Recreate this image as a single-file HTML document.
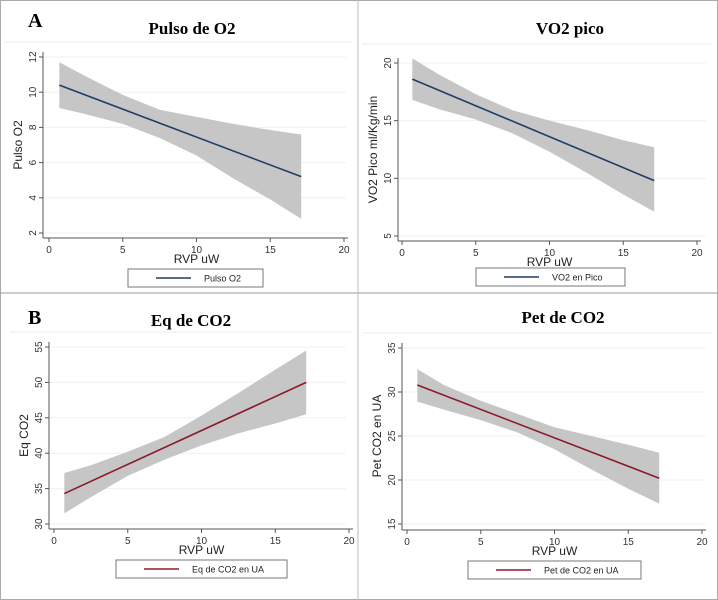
<!DOCTYPE html>
<html><head><meta charset="utf-8"><style>
html,body{margin:0;padding:0;background:#fff;}
svg{display:block;}
</style></head><body>
<svg id="chart" width="718" height="600" viewBox="0 0 718 600">
<rect x="0.5" y="0.5" width="717" height="599" fill="#fff" stroke="#aaa"/>
<line x1="0" y1="293" x2="718" y2="293" stroke="#999"/>
<line x1="358" y1="0" x2="358" y2="600" stroke="#bbb"/>
<text x="28" y="27" font-family="Liberation Serif, serif" font-weight="bold" font-size="20">A</text>
<text x="28" y="324" font-family="Liberation Serif, serif" font-weight="bold" font-size="20">B</text>
</svg>
<script>
const xCI = [0.7, 2.5, 5, 7.5, 10, 12.5, 15, 17.1];
const xTicks = [0, 5, 10, 15, 20];

const pulsoLine = [10.4, 5.2];
const pulsoUpper = [11.7, 10.9, 9.85, 9.0, 8.6, 8.2, 7.85, 7.6];
const pulsoLower = [9.1, 8.75, 8.2, 7.4, 6.4, 5.1, 3.9, 2.8];
const pulsoYTicks = [2, 4, 6, 8, 10, 12];

const vo2Line = [18.6, 9.8];
const vo2Upper = [20.4, 19.0, 17.3, 15.9, 15.0, 14.2, 13.3, 12.7];
const vo2Lower = [16.8, 16.0, 15.1, 13.9, 12.3, 10.5, 8.6, 7.1];
const vo2YTicks = [5, 10, 15, 20];

const eqLine = [34.3, 50.0];
const eqUpper = [37.2, 38.3, 40.2, 42.3, 45.3, 48.5, 51.8, 54.5];
const eqLower = [31.5, 33.8, 36.8, 39.1, 41.1, 42.8, 44.2, 45.5];
const eqYTicks = [30, 35, 40, 45, 50, 55];

const petLine = [30.8, 20.2];
const petUpper = [32.6, 30.8, 29.0, 27.5, 26.0, 25.0, 24.0, 23.1];
const petLower = [28.9, 28.0, 26.8, 25.4, 23.5, 21.2, 19.0, 17.3];
const petYTicks = [15, 20, 25, 30, 35];

const NS = 'http://www.w3.org/2000/svg';
const svg = document.getElementById('chart');
function mk(tag, attrs, parent, txt) {
  const e = document.createElementNS(NS, tag);
  for (const k in attrs) e.setAttribute(k, attrs[k]);
  if (txt !== undefined) e.textContent = txt;
  (parent || svg).appendChild(e);
  return e;
}

function panel(cfg) {
  const g = mk('g', {});
  
  
  const sx = v => cfg.x0 + (v - 0) / 20 * (cfg.x1 - cfg.x0);
  const sy = v => cfg.yb + (v - cfg.ymin) / (cfg.ymax - cfg.ymin) * (cfg.yt - cfg.yb);
  const tdef = 'Liberation Sans, sans-serif';
  const t = mk('text', {x: cfg.tx, y: cfg.ty, 'text-anchor': 'middle', 'font-family': 'Liberation Serif, serif', 'font-weight': 'bold', 'font-size': 17}, g, cfg.title);
  
  
  mk('line', {x1: cfg.px0, x2: cfg.px1, y1: cfg.sepY, y2: cfg.sepY, stroke: '#eee'}, g);
  cfg.yTicks.forEach(v => {
    const gl = mk('line', {x1: cfg.ax + 1, x2: cfg.px1 - 6, y1: sy(v), y2: sy(v), stroke: '#f0f0f0'}, g);
    
    
  });
  let d = '';
  xCI.forEach((x, i) => d += (i ? 'L' : 'M') + sx(x) + ',' + sy(cfg.upper[i]));
  for (let i = xCI.length - 1; i >= 0; i--) d += 'L' + sx(xCI[i]) + ',' + sy(cfg.lower[i]);
  d += 'Z';
  const band = mk('path', {d: d, fill: '#c6c6c6', stroke: 'none'}, g);
  
  
  const ln = mk('line', {x1: sx(xCI[0]), y1: sy(cfg.line[0]), x2: sx(xCI[xCI.length - 1]), y2: sy(cfg.line[1]), stroke: cfg.color, 'stroke-width': 1.6}, g);
  
  
  const ya = mk('line', {x1: cfg.ax, x2: cfg.ax, y1: sy(cfg.ymax) - 5, y2: cfg.ay, stroke: '#555'}, g);
  
  
  const xa = mk('line', {x1: cfg.ax, x2: cfg.x1 + 4, y1: cfg.ay, y2: cfg.ay, stroke: '#555'}, g);
  
  
  cfg.yTicks.forEach(v => {
    mk('line', {x1: cfg.ax - 4, x2: cfg.ax, y1: sy(v), y2: sy(v), stroke: '#555'}, g);
    const tl = mk('text', {x: 0, y: 0, transform: 'translate(' + (cfg.ax - 7) + ',' + sy(v) + ') rotate(-90)', 'text-anchor': 'middle', 'font-family': tdef, 'font-size': 10, fill: '#333'}, g, String(v));
    
    
  });
  xTicks.forEach(v => {
    mk('line', {x1: sx(v), x2: sx(v), y1: cfg.ay, y2: cfg.ay + 4, stroke: '#555'}, g);
    const tl = mk('text', {x: sx(v), y: cfg.ay + 15, 'text-anchor': 'middle', 'font-family': tdef, 'font-size': 10, fill: '#333'}, g, String(v));
    
    
  });
  const xt = mk('text', {x: (cfg.x0 + cfg.x1) / 2, y: cfg.ay + 25, 'text-anchor': 'middle', 'font-family': tdef, 'font-size': 12, fill: '#222'}, g, 'RVP uW');
  
  
  const ytt = mk('text', {x: 0, y: 0, transform: 'translate(' + (cfg.ax - 21) + ',' + ((sy(cfg.ymax) + sy(cfg.ymin)) / 2) + ') rotate(-90)', 'text-anchor': 'middle', 'font-family': tdef, 'font-size': 12, fill: '#222'}, g, cfg.ytitle);
  
  
  const lg = mk('g', {}, g);
  
  
  mk('rect', {x: cfg.lx, y: cfg.ly, width: cfg.lw, height: 18, fill: '#fff', stroke: '#777'}, lg);
  const ls = mk('line', {x1: cfg.lx + 28, x2: cfg.lx + 63, y1: cfg.ly + 9, y2: cfg.ly + 9, stroke: cfg.color, 'stroke-width': 1.6}, lg);
  
  
  const lt = mk('text', {x: cfg.lx + 76, y: cfg.ly + 12.5, 'font-family': tdef, 'font-size': 9, fill: '#222'}, lg, cfg.legend);
  
  
}

panel({name: 'pulso-o2-chart', title: 'Pulso de O2', tx: 192, ty: 34, sepY: 42, px0: 5, px1: 352,
  x0: 49, x1: 344, ax: 43, ay: 238, ymin: 2, ymax: 12, yb: 233, yt: 57,
  yTicks: pulsoYTicks, upper: pulsoUpper, lower: pulsoLower, line: pulsoLine, color: '#1f3f66',
  ytitle: 'Pulso O2', legend: 'Pulso O2', lx: 128, ly: 269, lw: 135});

panel({name: 'vo2-pico-chart', title: 'VO2 pico', tx: 570, ty: 34, sepY: 44, px0: 362, px1: 712,
  x0: 402, x1: 697, ax: 398, ay: 241, ymin: 5, ymax: 20, yb: 236, yt: 63,
  yTicks: vo2YTicks, upper: vo2Upper, lower: vo2Lower, line: vo2Line, color: '#1f3f66',
  ytitle: 'VO2 Pico ml/Kg/min', legend: 'VO2 en Pico', lx: 476, ly: 268, lw: 149});

panel({name: 'eq-co2-chart', title: 'Eq de CO2', tx: 191, ty: 326, sepY: 332, px0: 10, px1: 352,
  x0: 54, x1: 349, ax: 49, ay: 529, ymin: 30, ymax: 55, yb: 524, yt: 347,
  yTicks: eqYTicks, upper: eqUpper, lower: eqLower, line: eqLine, color: '#8b1a2a',
  ytitle: 'Eq CO2', legend: 'Eq de CO2 en UA', lx: 116, ly: 560, lw: 171});

panel({name: 'pet-co2-chart', title: 'Pet de CO2', tx: 563, ty: 323, sepY: 333, px0: 362, px1: 712,
  x0: 407, x1: 702, ax: 402, ay: 530, ymin: 15, ymax: 35, yb: 524, yt: 348,
  yTicks: petYTicks, upper: petUpper, lower: petLower, line: petLine, color: '#8b1a2a',
  ytitle: 'Pet CO2 en UA', legend: 'Pet de CO2 en UA', lx: 468, ly: 561, lw: 173});
</script>
</body></html>
